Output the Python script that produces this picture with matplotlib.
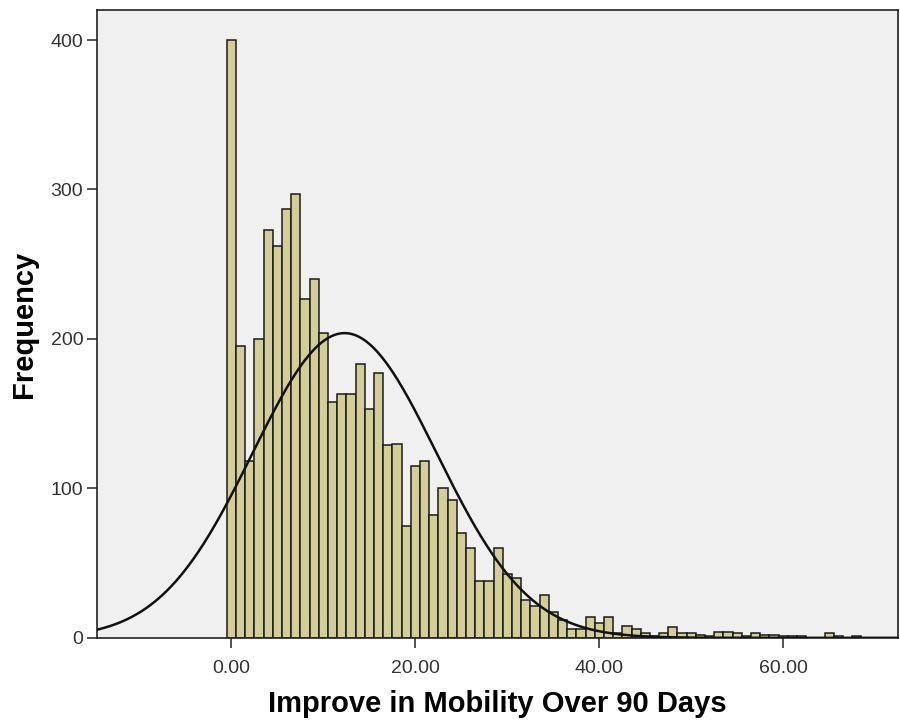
import numpy as np
import matplotlib
matplotlib.use("Agg")
import matplotlib.pyplot as plt

# bin centres (1-unit bins) and counts
bin_centers = np.arange(0, 69)
counts = [400, 195, 118, 200, 273, 262, 287, 297, 227, 240,
          204, 158, 163, 163, 183, 153, 177, 129, 130, 75,
          115, 118, 82, 100, 92, 70, 60, 38, 38, 60,
          43, 40, 25, 21, 29, 17, 12, 6, 6, 14,
          10, 14, 3, 8, 6, 3, 1, 3, 7, 3,
          3, 2, 1, 4, 4, 3, 1, 3, 2, 2,
          1, 1, 1, 0, 0, 3, 1, 0, 1]

# normal curve parameters (SPSS overlay)
mean_val = 12.3
sd_val = 10.0
n_total = sum(counts)

x_ticks = [0, 20, 40, 60]
x_ticklabels = ["0.00", "20.00", "40.00", "60.00"]
y_ticks = [0, 100, 200, 300, 400]

plt.rcParams['font.family'] = ['Liberation Sans', 'DejaVu Sans']

fig = plt.figure(figsize=(9, 7.24), dpi=100)
ax = fig.add_axes([0.108, 0.119, 0.89, 0.867])
ax.set_facecolor('#f0f0f0')

ax.bar(bin_centers, counts, width=1.0, color='#d3ce97', edgecolor='#1a1a1a', linewidth=1.1, zorder=2)

xs = np.linspace(-15, 73, 600)
ys = n_total * 1.0 / (sd_val * np.sqrt(2 * np.pi)) * np.exp(-0.5 * ((xs - mean_val) / sd_val) ** 2)
ax.plot(xs, ys, color='#111111', linewidth=1.8, zorder=3)

ax.set_xlim(-14.6, 72.5)
ax.set_ylim(0, 420)
ax.set_xticks(x_ticks)
ax.set_xticklabels(x_ticklabels)
ax.set_yticks(y_ticks)
ax.tick_params(axis='both', direction='out', length=7, width=1.2, colors='#333333', labelsize=14, pad=3)
ax.tick_params(axis='x', pad=9)
for s in ax.spines.values():
    s.set_color('#222222')
    s.set_linewidth(1.2)

ax.set_xlabel('Improve in Mobility Over 90 Days', fontsize=21, fontweight='bold', labelpad=9)
ax.set_ylabel('Frequency', fontsize=21, fontweight='bold', labelpad=9)

fig.savefig('out.png', dpi=100)
